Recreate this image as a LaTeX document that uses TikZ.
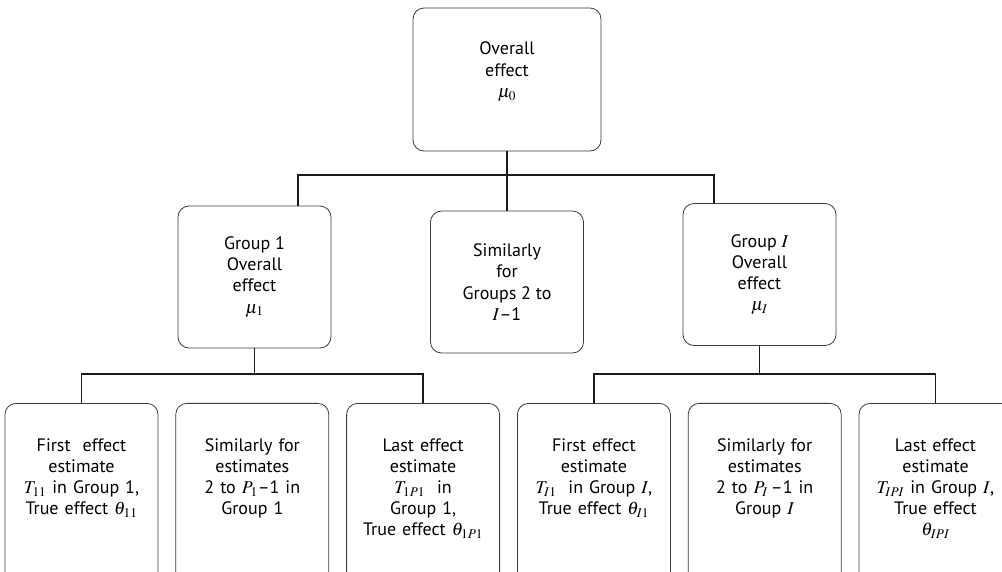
\documentclass[tikz,border=0pt]{standalone}
\usepackage{mathptmx}
\usepackage{fontspec}
\setmainfont{PT Sans}
\usetikzlibrary{positioning}
\definecolor{boxline}{HTML}{3C3C3C}
\definecolor{linkline}{HTML}{1A1A1A}

\begin{document}
\begin{tikzpicture}[
      x=1pt, y=-1pt,
      node distance=17pt,
      every node/.style={font=\fontsize{18}{21.2}\selectfont},
      box/.style={
        draw=boxline, line width=0.8pt,
        rounded corners=11pt,
        align=center,
        inner sep=4pt
      },
      groupbox/.style={box, minimum width=153pt, minimum height=142pt},
      leafbox/.style={
        box, anchor=north,
        text width=147pt, inner xsep=3pt, inner ysep=35pt,
        text depth=100pt
      },
      link/.style={draw=linkline, line width=1.4pt}
    ]
      \useasboundingbox (0,0) rectangle (1002,571);
      \clip (0,0) rectangle (1002,571);
      % top and group level
      \node[box, minimum width=188pt, minimum height=143pt,
        text width=150pt, text depth=62pt] (ov) at (507,79.5)
        {Overall\\effect\\$\mu_0$};
      \node[groupbox] (g1) at (254.5,277) {Group 1\\Overall\\effect\\$\mu_1$};
      \node[groupbox, minimum height=142pt] (gm) at (507,282)
        {Similarly\\for\\Groups 2 to\\$I$--1};
      \node[groupbox] (gI) at (759.5,274.5) {Group $I$\\Overall\\effect\\$\mu_I$};
      % effect estimates
      \node[leafbox] (l1) at (81.5,403)
        {First~ effect\\estimate\\$T_{11}$ in Group 1,\\True effect $\theta_{11}$};
      \node[leafbox, right=of l1] (l2)
        {Similarly for\\estimates\\2 to $P_1$--1 in\\Group 1};
      \node[leafbox, right=of l2] (l3)
        {Last effect\\estimate\\$T_{1P1}$~ in\\Group 1,\\True effect $\theta_{1P1}$};
      \node[leafbox, right=of l3] (l4)
        {First effect\\estimate\\$T_{I1}$~ in Group $I$,\\True effect $\theta_{I1}$};
      \node[leafbox, right=of l4] (l5)
        {Similarly for\\estimates\\2 to $P_I$\,--1 in\\Group $I$};
      \node[leafbox, right=of l5] (l6)
        {Last effect\\estimate\\$T_{IPI}$ in Group $I$,\\True effect\\$\theta_{IPI}$};
      % connectors
      \coordinate (topbus) at (507,175);
      \draw[link] (ov) -- (gm);
      \draw[link] ([xshift=43.5pt]g1.north) |- (topbus) -| ([xshift=-45.5pt]gI.north);
      \coordinate (leftbus) at (g1.south |- 0,374);
      \draw[link] (g1) -- (leftbus);
      \draw[link] (l1) |- (leftbus) -| (l3);
      \coordinate (rightbus) at (gI.south |- 0,374);
      \draw[link] (gI) -- (rightbus);
      \draw[link] (l4) |- (rightbus) -| (l6);
    \end{tikzpicture}
\end{document}
